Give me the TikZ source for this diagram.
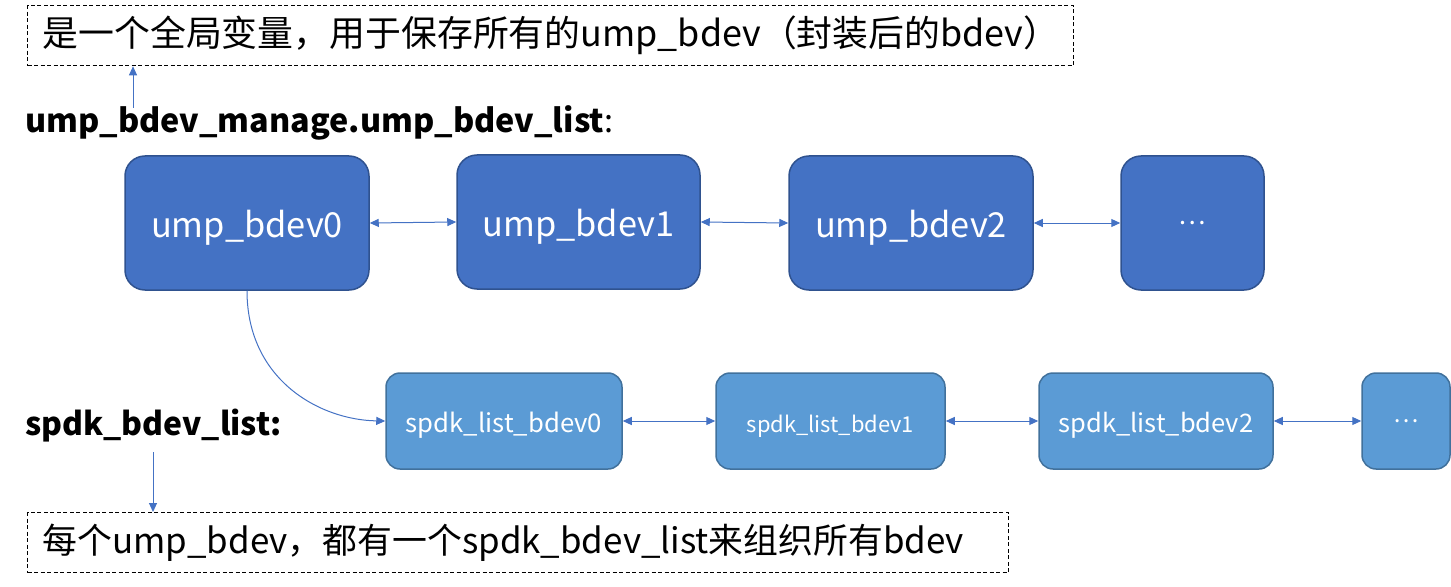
\documentclass[tikz,border=0pt]{standalone}
\usepackage{fontspec}
\setmainfont{Noto Sans CJK SC}
\usetikzlibrary{arrows.meta}
\definecolor{bigfill}{HTML}{4472C4}
\definecolor{bigline}{HTML}{2F528F}
\definecolor{smallfill}{HTML}{5B9BD5}
\definecolor{smallline}{HTML}{41719C}
\definecolor{arrowblue}{HTML}{4472C4}
\begin{document}
\begin{tikzpicture}[x=1bp,y=-1bp,
  bigbox/.style={draw=bigline,fill=bigfill,line width=1.5bp,rounded corners=20bp,text=white,inner sep=0pt,
     font=\fontsize{34.5}{40}\selectfont,text height=30bp,text depth=2bp},
  smallbox/.style={draw=smallline,fill=smallfill,line width=1.5bp,rounded corners=14bp,text=white,inner sep=0pt,
     font=\fontsize{25.8}{30}\selectfont,text height=24bp,text depth=2bp},
  dots/.style={text height=,text depth=},
  dashbox/.style={draw=black,line width=1.3bp,dash pattern=on 4bp off 2.5bp,inner xsep=15bp,inner ysep=0pt,
     align=left,font=\fontsize{36}{42}\selectfont},
  conn/.style={draw=arrowblue,line width=1bp},
  dbl/.style={conn,{Triangle[length=9bp,width=8bp]}-{Triangle[length=9bp,width=8bp]}},
  sgl/.style={conn,-{Triangle[length=9bp,width=8bp]}},
  heading/.style={anchor=base west,inner sep=0pt,font=\fontsize{32.5}{38}\selectfont\bfseries}
]
\useasboundingbox (0,0) rectangle (1451,587);

\node[dashbox,anchor=north west,minimum height=60bp,text width=1016bp] (topbox) at (27,5)
  {是一个全局变量，用于保存所有的ump\_bdev（封装后的bdev）};
\node[heading] (h1) at (25,133) {ump\_bdev\_manage.ump\_bdev\_list\textmd{:}};
\coordinate (h1top) at (133,108);
\draw[sgl] (h1top) -- (topbox.south -| h1top);

\node[bigbox,minimum width=244bp,minimum height=134bp] (b0) at (247,223) {ump\_bdev0};
\node[bigbox,minimum width=243bp,minimum height=134bp] (b1) at (578.5,222) {ump\_bdev1};
\node[bigbox,minimum width=244bp,minimum height=134bp] (b2) at (911,223) {ump\_bdev2};
\node[bigbox,dots,minimum width=143bp,minimum height=134bp,font=\fontsize{26}{30}\selectfont] (b3) at (1192.5,223) {…};
\draw[dbl] (b0.east) -- (b1.west);
\draw[dbl] (b1.east) -- (b2.west);
\draw[dbl] (b2.east) -- (b3.west);

\node[smallbox,minimum width=236bp,minimum height=96bp] (s0) at (504,421) {spdk\_list\_bdev0};
\node[smallbox,minimum width=229bp,minimum height=96bp,font=\fontsize{22}{26}\selectfont] (s1) at (830.5,421) {spdk\_list\_bdev1};
\node[smallbox,minimum width=234bp,minimum height=96bp,font=\fontsize{25.6}{30}\selectfont] (s2) at (1156,421) {spdk\_list\_bdev2};
\node[smallbox,dots,minimum width=88bp,minimum height=96bp,font=\fontsize{24}{28}\selectfont] (s3) at (1406,421) {…};
\draw[dbl] (s0.east) -- (s1.west);
\draw[dbl] (s1.east) -- (s2.west);
\draw[dbl] (s2.east) -- (s3.west);

\draw[sgl] (b0.south) .. controls (247,380) and (320,420) .. (s0.west);

\node[heading,font=\fontsize{32}{38}\selectfont\bfseries] (h2) at (25,435) {spdk\_bdev\_list:};
\node[dashbox,anchor=north west,minimum height=60bp,text width=951bp,font=\fontsize{35}{41}\selectfont] (botbox) at (27,512)
  {每个ump\_bdev，都有一个spdk\_bdev\_list来组织所有bdev};
\coordinate (h2bot) at (153,452);
\draw[sgl] (h2bot) -- (botbox.north -| h2bot);
\end{tikzpicture}
\end{document}
